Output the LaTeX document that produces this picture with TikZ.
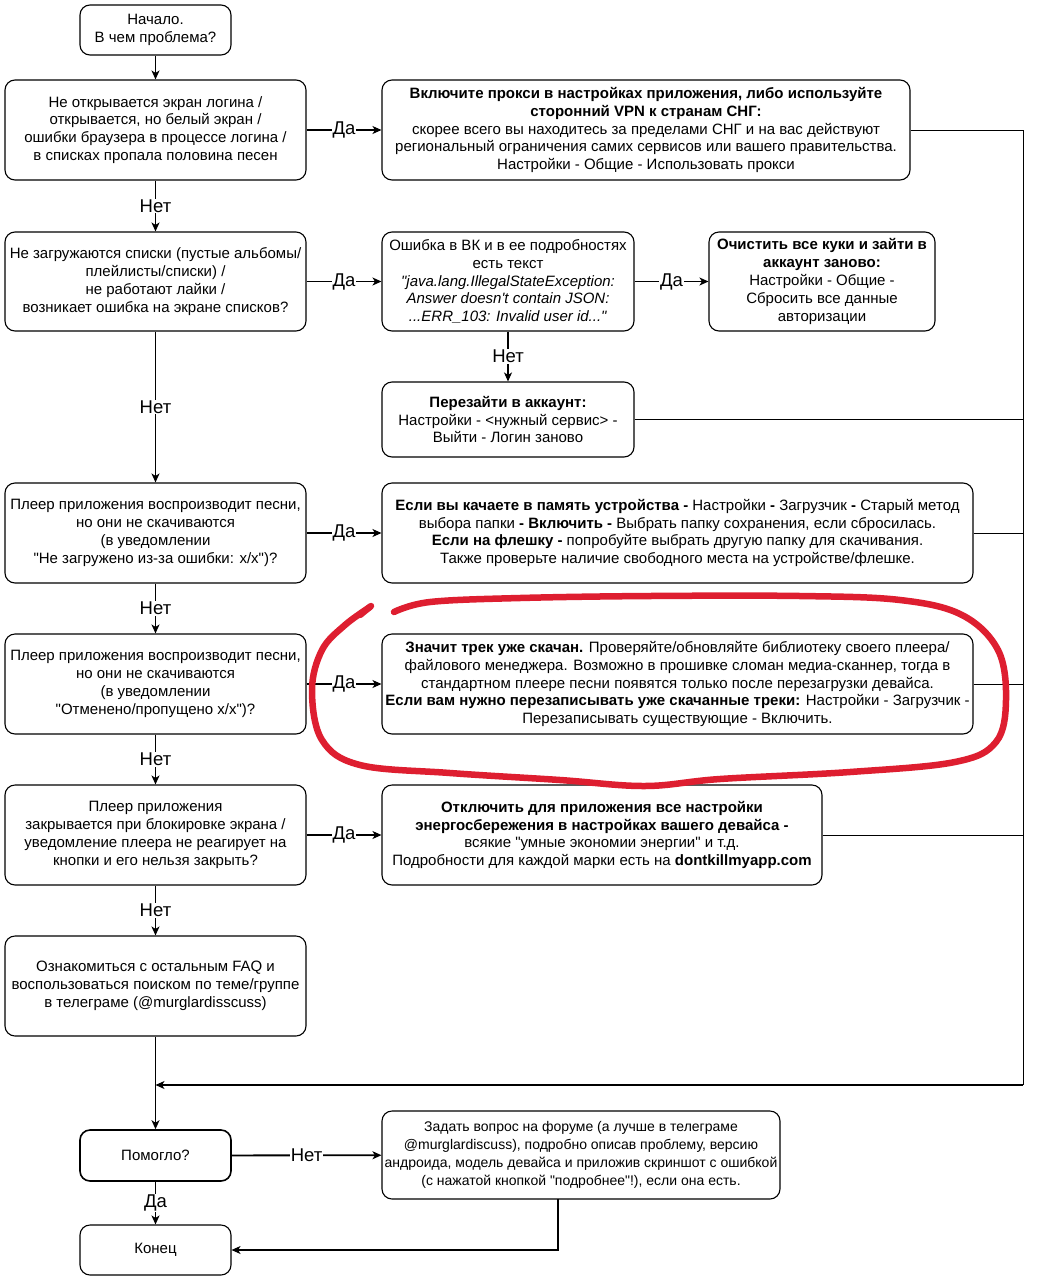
\documentclass[tikz,border=0pt]{standalone}
\usepackage{fontspec}
\setmainfont{Liberation Sans}[Ligatures=TeXOff]
\usetikzlibrary{arrows.meta,calc}
\definecolor{markred}{RGB}{222,30,48}
\begin{document}
\begin{tikzpicture}[x=1pt,y=-1pt,
  box/.style={draw=black, line width=1.1pt, rounded corners=10pt, align=center,
    inner sep=2pt, font=\fontsize{15}{17.8}\selectfont},
  conn/.style={line width=1.1pt, -{Stealth[length=9pt,width=8pt,inset=2.5pt]}},
  plain/.style={line width=1pt},
  lbl/.style={fill=white, inner sep=1pt, font=\fontsize{18.5}{21}\selectfont},
  redmark/.style={draw=markred, line width=6.5pt, line cap=round, line join=round}]
\useasboundingbox (0,0) rectangle (1038,1280);
\fill[white] (0,0) rectangle (1038,1280);

\node[box, minimum width=151pt, minimum height=50pt] (start) at (155.5,30) {Начало.\\В чем проблема?};
\node[box, minimum width=301pt, minimum height=100pt] (q1) at (155.5,130) {Не открывается экран логина /\\открывается, но белый экран /\\ошибки браузера в процессе логина /\\в списках пропала половина песен};
\node[box, minimum width=528pt, minimum height=100pt] (a1) at (646,130) {\textbf{Включите прокси в настройках приложения, либо используйте}\\\textbf{сторонний VPN к странам СНГ:}\\скорее всего вы находитесь за пределами СНГ и на вас действуют\\региональный ограничения самих сервисов или вашего правительства.\\Настройки - Общие - Использовать прокси};
\node[box, minimum width=301pt, minimum height=99pt] (q2) at (155.5,281.5) {Не загружаются списки (пустые альбомы/\\плейлисты/списки) /\\не работают лайки /\\возникает ошибка на экране списков?};
\node[box, minimum width=252pt, minimum height=99pt] (vk) at (508,281.5) {Ошибка в ВК и в ее подробностях\\есть текст\\\textit{"java.lang.IllegalStateException:}\\\textit{Answer doesn't contain JSON:}\\\textit{...ERR\_103: Invalid user id..."}};
\node[box, minimum width=226pt, minimum height=99pt] (ck) at (822,281.5) {\textbf{Очистить все куки и зайти в}\\\textbf{аккаунт заново:}\\Настройки - Общие -\\Сбросить все данные\\авторизации};
\node[box, minimum width=252pt, minimum height=75pt] (rl) at (508,419.5) {\textbf{Перезайти в аккаунт:}\\Настройки - <нужный сервис> -\\Выйти - Логин заново};
\node[box, minimum width=301pt, minimum height=100pt] (q3) at (155.5,533) {Плеер приложения воспроизводит песни,\\но они не скачиваются\\(в уведомлении\\"Не загружено из-за ошибки: x/x")?};
\node[box, minimum width=591pt, minimum height=100pt] (a3) at (677.5,533) {\textbf{Если вы качаете в память устройства -} Настройки \textbf{-} Загрузчик \textbf{-} Старый метод\\выбора папки \textbf{- Включить -} Выбрать папку сохранения, если сбросилась.\\\textbf{Если на флешку -} попробуйте выбрать другую папку для скачивания.\\Также проверьте наличие свободного места на устройстве/флешке.};
\node[box, minimum width=301pt, minimum height=100pt] (q4) at (155.5,684) {Плеер приложения воспроизводит песни,\\но они не скачиваются\\(в уведомлении\\"Отменено/пропущено x/x")?};
\node[box, minimum width=591pt, minimum height=100pt] (a4) at (677.5,684) {\textbf{Значит трек уже скачан.} Проверяйте/обновляйте библиотеку своего плеера/\\файлового менеджера. Возможно в прошивке сломан медиа-сканнер, тогда в\\стандартном плеере песни появятся только после перезагрузки девайса.\\\textbf{Если вам нужно перезаписывать уже скачанные треки:} Настройки - Загрузчик -\\Перезаписывать существующие - Включить.};
\node[box, minimum width=301pt, minimum height=100pt] (q5) at (155.5,835) {Плеер приложения\\закрывается при блокировке экрана /\\уведомление плеера не реагирует на\\кнопки и его нельзя закрыть?};
\node[box, minimum width=440pt, minimum height=100pt] (a5) at (602,835) {\textbf{Отключить для приложения все настройки}\\\textbf{энергосбережения в настройках вашего девайса -}\\всякие "умные экономии энергии" и т.д.\\Подробности для каждой марки есть на \textbf{dontkillmyapp.com}};
\node[box, minimum width=301pt, minimum height=100pt] (faq) at (155.5,986) {Ознакомиться с остальным FAQ и\\воспользоваться поиском по теме/группе\\в телеграме (@murglardisscuss)};
\node[box, line width=1.6pt, minimum width=151pt, minimum height=51pt] (hp) at (155.5,1155.5) {Помогло?};
\node[box, font=\fontsize{14}{17.8}\selectfont, minimum width=398pt, minimum height=88pt] (fr) at (581,1155) {Задать вопрос на форуме (а лучше в телеграме\\@murglardiscuss), подробно описав проблему, версию\\андроида, модель девайса и приложив скриншот с ошибкой\\(с нажатой кнопкой "подробнее"!), если она есть.};
\node[box, minimum width=151pt, minimum height=50pt] (end) at (155.5,1250) {Конец};

\coordinate (rb) at (1023,1085);
\coordinate (lb) at (155.5,1085);
\coordinate (rt) at (1023,130);
\coordinate (fk) at (558,1199);

% main flow
\draw[conn] (start) -- (q1);
\draw[conn] (q1) -- node[lbl]{Да} (a1);
\draw[conn] (q1) -- node[lbl]{Нет} (q2);
\draw[conn] (q2) -- node[lbl]{Да} (vk);
\draw[conn] (vk) -- node[lbl]{Да} (ck);
\draw[conn] (vk) -- node[lbl]{Нет} (rl);
\draw[conn] (q2) -- node[lbl]{Нет} (q3);
\draw[conn] (q3) -- node[lbl]{Да} (a3);
\draw[conn] (q3) -- node[lbl]{Нет} (q4);
\draw[conn] (q4) -- node[lbl]{Да} (a4);
\draw[conn] (q4) -- node[lbl]{Нет} (q5);
\draw[conn] (q5) -- node[lbl]{Да} (a5);
\draw[conn] (q5) -- node[lbl]{Нет} (faq);
\draw[conn] (faq) -- (hp);

% right collector
\draw[plain] (a1.east) -- (rt) -- (rb);
\draw[plain] (rl.east) -- (rl.east -| rb);
\draw[plain] (a3.east) -- (a3.east -| rb);
\draw[plain] (a4.east) -- (a4.east -| rb);
\draw[plain] (a5.east) -- (a5.east -| rb);
\draw[conn] (rb) -- (lb);

% bottom
\draw[conn, line width=1.8pt] (hp) -- node[lbl]{Нет} (fr);
\draw[conn] (hp) -- node[lbl]{Да} (end);
\draw[conn] (fk) |- (end.east);

% red hand-drawn loop
\draw[redmark] (360,615) -- (371,606);
\draw[redmark] plot[smooth, tension=0.6] coordinates {(394,612) (430,602) (520,598) (650,596) (800,596) (900,600) (962,615) (998,650) (1006,700) (996,742) (955,762) (850,772) (720,779) (645,786) (560,780) (450,773) (360,765) (322,740) (312,690) (322,650) (345,625) (370,607)};
\end{tikzpicture}
\end{document}
